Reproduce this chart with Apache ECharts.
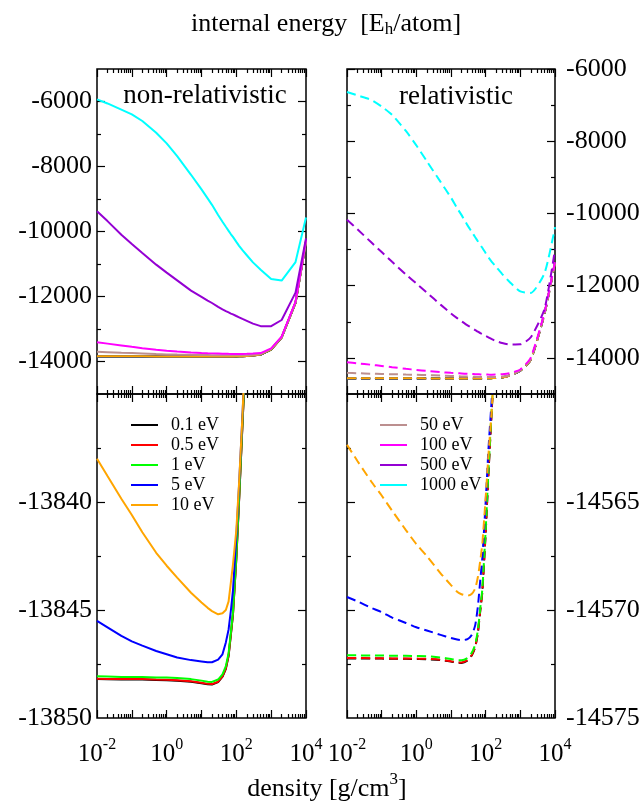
<!DOCTYPE html>
<html><head><meta charset="utf-8">
<script src="https://cdn.jsdelivr.net/npm/echarts@6/dist/echarts.min.js"></script>
<style>html,body{margin:0;padding:0;background:#fff}#c{width:643px;height:807px}</style>
</head><body><div id="c"></div>
<script>
// ---- data ----
const density = [0.01,0.02,0.05,0.1,0.2,0.5,1,2,5,10,15,20,30,40,50,60,70,80,100,120,150,200,300,500,1000,2000,5000,10000];

const temps = ['0.1 eV','0.5 eV','1 eV','5 eV','10 eV','50 eV','100 eV','500 eV','1000 eV'];
const colors = ['#000000','#ff0000','#00ff00','#0000ff','#ffa500','#bc8f8f','#ff00ff','#9400d3','#00ffff'];

// non-relativistic internal energy [Eh/atom]
const nr01 = [-13848.2,-13848.21,-13848.22,-13848.22,-13848.22,-13848.24,-13848.25,-13848.27,-13848.32,-13848.39,-13848.44,-13848.45,-13848.34,-13848.09,-13847.72,-13847.12,-13846.12,-13845.22,-13842.62,-13839.92,-13836.42,-13832,-13818,-13786,-13631,-13261,-12196,-10316];
const nr05 = [-13848.18,-13848.19,-13848.2,-13848.2,-13848.2,-13848.22,-13848.23,-13848.25,-13848.3,-13848.37,-13848.42,-13848.43,-13848.32,-13848.07,-13847.7,-13847.1,-13846.1,-13845.2,-13842.6,-13839.9,-13836.4,-13832,-13818,-13786,-13631,-13261,-12196,-10316];
const nr1  = [-13848.07,-13848.08,-13848.1,-13848.1,-13848.1,-13848.12,-13848.13,-13848.15,-13848.2,-13848.27,-13848.32,-13848.33,-13848.22,-13847.98,-13847.6,-13847.0,-13846.0,-13845.1,-13842.5,-13839.8,-13836.3,-13832,-13818,-13786,-13630,-13260,-12195,-10315];
const nr5  = [-13845.5,-13845.8,-13846.2,-13846.45,-13846.65,-13846.9,-13847.05,-13847.2,-13847.32,-13847.38,-13847.42,-13847.42,-13847.3,-13847.05,-13846.5,-13845.9,-13845.0,-13844.1,-13841.6,-13839.2,-13836.0,-13831.5,-13817,-13784,-13628,-13258,-12190,-10310];
const nr10 = [-13838.0,-13838.8,-13839.85,-13840.6,-13841.4,-13842.35,-13842.95,-13843.5,-13844.2,-13844.65,-13844.9,-13845.05,-13845.2,-13845.15,-13845.0,-13844.6,-13843.7,-13842.9,-13841.3,-13839.1,-13836.0,-13831,-13816,-13782,-13625,-13255,-12185,-10305];
const nr50 = [-13698,-13712,-13730,-13742,-13754,-13771,-13781,-13788,-13795,-13799,-13802,-13804,-13806,-13807,-13808,-13809,-13809,-13810,-13810,-13810,-13809,-13806,-13796,-13768,-13612,-13247,-12178,-10290];
const nr100 = [-13410,-13450,-13505,-13548,-13590,-13640,-13668,-13693,-13722,-13738,-13746,-13750,-13756,-13760,-13763,-13765,-13766,-13767,-13768,-13768,-13767,-13765,-13757,-13742,-13594,-13237,-12165,-10265];
const nr500 = [-9380,-9680,-10100,-10385,-10660,-11020,-11265,-11505,-11820,-12010,-12125,-12200,-12320,-12395,-12450,-12490,-12525,-12550,-12600,-12640,-12690,-12750,-12835,-12912,-12912,-12723,-11880,-10210];
const nr1000 = [-5935,-6060,-6250,-6395,-6600,-6960,-7290,-7680,-8255,-8705,-8980,-9180,-9490,-9700,-9855,-9980,-10085,-10165,-10320,-10440,-10575,-10730,-10950,-11175,-11460,-11510,-10940,-9570];

// relativistic internal energy [Eh/atom]
const rl01 = [-14572.24,-14572.24,-14572.25,-14572.25,-14572.26,-14572.26,-14572.27,-14572.28,-14572.32,-14572.39,-14572.44,-14572.45,-14572.34,-14572.09,-14571.72,-14571.02,-14570.02,-14569.17,-14566.42,-14563.72,-14560.72,-14557,-14543,-14488,-14353,-14048,-12768,-11363];
const rl05 = [-14572.22,-14572.22,-14572.23,-14572.23,-14572.24,-14572.24,-14572.25,-14572.26,-14572.3,-14572.37,-14572.42,-14572.43,-14572.32,-14572.07,-14571.7,-14571.0,-14570.0,-14569.15,-14566.4,-14563.7,-14560.7,-14557,-14543,-14488,-14353,-14048,-12768,-11363];
const rl1  = [-14572.1,-14572.1,-14572.11,-14572.11,-14572.12,-14572.12,-14572.13,-14572.14,-14572.2,-14572.27,-14572.32,-14572.33,-14572.22,-14571.97,-14571.6,-14570.9,-14569.9,-14569.05,-14566.3,-14563.6,-14560.6,-14557,-14543,-14488,-14353,-14048,-12768,-11363];
const rl5  = [-14569.4,-14569.6,-14569.9,-14570.1,-14570.35,-14570.6,-14570.8,-14570.95,-14571.15,-14571.3,-14571.37,-14571.4,-14571.35,-14571.15,-14570.7,-14569.8,-14568.6,-14567.6,-14565.0,-14562.6,-14560.2,-14556.8,-14543,-14487,-14352,-14047,-12767,-11362];
const rl10 = [-14562.35,-14563.1,-14564.05,-14564.7,-14565.4,-14566.3,-14566.95,-14567.5,-14568.3,-14568.85,-14569.15,-14569.27,-14569.34,-14569.25,-14569.0,-14568.45,-14567.7,-14566.95,-14564.8,-14562.85,-14560.7,-14556.5,-14542,-14485,-14350,-14045,-12765,-11360];
const rl50 = [-14415,-14425,-14438,-14446,-14453,-14461,-14467,-14475,-14488,-14500,-14507,-14512,-14518,-14522,-14525,-14527,-14528,-14529,-14530,-14530,-14530,-14528,-14518,-14478,-14338,-14033,-12752,-11348];
const rl100 = [-14120,-14150,-14190,-14222,-14258,-14303,-14333,-14362,-14394,-14414,-14424,-14431,-14441,-14447,-14451,-14454,-14457,-14459,-14461,-14463,-14464,-14463,-14450,-14420,-14320,-13990,-12730,-11330];
const rl500 = [-10175,-10440,-10800,-11070,-11340,-11690,-11940,-12190,-12525,-12770,-12900,-12985,-13100,-13170,-13230,-13275,-13315,-13340,-13390,-13430,-13480,-13535,-13590,-13630,-13625,-13430,-12640,-10995];
const rl1000 = [-6635,-6730,-6855,-7040,-7270,-7715,-8113,-8552,-9127,-9563,-9850,-10040,-10330,-10513,-10660,-10775,-10878,-10950,-11100,-11215,-11340,-11477,-11680,-11905,-12160,-12200,-11650,-10380];

const nonRel = [nr01,nr05,nr1,nr5,nr10,nr50,nr100,nr500,nr1000];
const rel = [rl01,rl05,rl1,rl5,rl10,rl50,rl100,rl500,rl1000];

// ticks
const xMajorTicks = [0.01,0.1,1,10,100,1000,10000];
const xLabelValues = [0.01,1,100,10000];
const xLabelExps = ['-2','0','2','4'];
const xMinorTicks = [];
for (let e = -2; e < 4; e++) for (let m = 2; m < 10; m++) xMinorTicks.push(+(m * Math.pow(10, e)).toPrecision(3));

const yTL = {min:-15000, max:-5000, labels:[-14000,-12000,-10000,-8000,-6000], major:[-14000,-12000,-10000,-8000,-6000], minor:[-13000,-11000,-9000,-7000]};
const yTR = {min:-15000, max:-6000, labels:[-14000,-12000,-10000,-8000,-6000], major:[-14000,-12000,-10000,-8000,-6000], minor:[-13000,-11000,-9000,-7000]};
const yBL = {min:-13850, max:-13835, labels:[-13850,-13845,-13840], major:[-13845,-13840], minor:[-13847.5,-13842.5,-13837.5]};
const yBR = {min:-14575, max:-14560, labels:[-14575,-14570,-14565], major:[-14570,-14565], minor:[-14572.5,-14567.5,-14562.5]};

// ---- chart ----
const FONT = "'Liberation Serif','Times New Roman',serif";
const chart = echarts.init(document.getElementById('c'), null, {renderer:'canvas'});

const grids = [
  {left:97, top:69, width:209, height:325},
  {left:347, top:69, width:208, height:325},
  {left:97, top:394, width:209, height:324},
  {left:347, top:394, width:208, height:324}
].map(g => Object.assign(g, {show:true, borderColor:'#000', borderWidth:1.5, backgroundColor:'transparent'}));

const tickStyle = {color:'#000', width:1.2};

function makeXAxes(gi, showLabels) {
  const base = {type:'log', logBase:10, min:0.01, max:10000, gridIndex:gi,
    axisLine:{show:false}, splitLine:{show:false}, minorTick:{show:false}};
  const lab = {
    show: showLabels, customValues: xLabelValues, margin: 19,
    formatter: function (v) {
      const i = xLabelValues.findIndex(t => Math.abs(Math.log10(t) - Math.log10(v)) < 1e-6);
      return i < 0 ? '' : '{b|10}{s|' + xLabelExps[i] + '}';
    },
    rich: {
      b: {fontSize:25, lineHeight:34, fontFamily:FONT, color:'#000'},
      s: {fontSize:16, lineHeight:16, verticalAlign:'top', fontFamily:FONT, color:'#000'}
    }
  };
  return [
    Object.assign({}, base, {position:'bottom', axisTick:{show:true, inside:true, length:8, customValues:xMajorTicks, lineStyle:tickStyle}, axisLabel:lab}),
    Object.assign({}, base, {position:'bottom', axisTick:{show:true, inside:true, length:4, customValues:xMinorTicks, lineStyle:tickStyle}, axisLabel:{show:false}}),
    Object.assign({}, base, {position:'top', axisTick:{show:true, inside:true, length:8, customValues:xMajorTicks, lineStyle:tickStyle}, axisLabel:{show:false}}),
    Object.assign({}, base, {position:'top', axisTick:{show:true, inside:true, length:4, customValues:xMinorTicks, lineStyle:tickStyle}, axisLabel:{show:false}})
  ];
}

function makeYAxes(gi, side, cfg, margin) {
  const other = side === 'left' ? 'right' : 'left';
  const base = {type:'value', gridIndex:gi, min:cfg.min, max:cfg.max,
    axisLine:{show:false}, splitLine:{show:false}, minorTick:{show:false}};
  return [
    Object.assign({}, base, {position:side, axisTick:{show:true, inside:true, length:8, customValues:cfg.major, lineStyle:tickStyle},
      axisLabel:{show:true, customValues:cfg.labels, margin:margin, fontSize:26, fontFamily:FONT, color:'#000', formatter: v => String(v)}}),
    Object.assign({}, base, {position:side, axisTick:{show:true, inside:true, length:4, customValues:cfg.minor, lineStyle:tickStyle}, axisLabel:{show:false}}),
    Object.assign({}, base, {position:other, axisTick:{show:true, inside:true, length:8, customValues:cfg.major, lineStyle:tickStyle}, axisLabel:{show:false}}),
    Object.assign({}, base, {position:other, axisTick:{show:true, inside:true, length:4, customValues:cfg.minor, lineStyle:tickStyle}, axisLabel:{show:false}})
  ];
}

const xAxis = [].concat(makeXAxes(0,false), makeXAxes(1,false), makeXAxes(2,true), makeXAxes(3,true));
const yAxis = [].concat(makeYAxes(0,'left',yTL,5), makeYAxes(1,'right',yTR,11), makeYAxes(2,'left',yBL,5), makeYAxes(3,'right',yBR,11));

const panels = [
  {grid:0, sets:nonRel, dashed:false},
  {grid:1, sets:rel, dashed:true},
  {grid:2, sets:nonRel, dashed:false},
  {grid:3, sets:rel, dashed:true}
];
const series = [];
panels.forEach(p => {
  p.sets.forEach((vals, k) => {
    series.push({
      type:'line', name:temps[k], xAxisIndex:p.grid*4, yAxisIndex:p.grid*4,
      data: density.map((d, i) => [d, vals[i]]),
      symbol:'none', clip:true, silent:true,
      smooth: p.dashed ? 0.2 : false,
      lineStyle:{color:colors[k], width:2, type: p.dashed ? [9,5] : 'solid'},
      itemStyle:{color:colors[k]}
    });
  });
});

const legendText = {fontFamily:FONT, fontSize:18, color:'#000', padding:[0,0,0,8]};
const legendBase = {orient:'vertical', top:416, padding:0, itemWidth:27, itemHeight:2, itemGap:2,
  icon:'rect', textStyle:legendText, selectedMode:false};
const option = {
  backgroundColor:'#fff',
  animation:false,
  grid: grids,
  xAxis: xAxis,
  yAxis: yAxis,
  legend: [
    Object.assign({}, legendBase, {data: temps.slice(0,5), left:131}),
    Object.assign({}, legendBase, {data: temps.slice(5), left:380})
  ],
  graphic: [
    {type:'text', x:326, y:24, style:{text:'{a|internal energy  [E}{sub|h}{a|/atom]}', align:'center', verticalAlign:'middle',
      rich:{a:{fontSize:26, fontFamily:FONT, fill:'#000', lineHeight:28}, sub:{fontSize:17, fontFamily:FONT, fill:'#000', lineHeight:17, padding:[26,0,0,0], verticalAlign:'bottom'}}}},
    {type:'text', x:327, y:789, style:{text:'{a|density [g/cm}{sup|3}{a|]}', align:'center', verticalAlign:'middle',
      rich:{a:{fontSize:26, fontFamily:FONT, fill:'#000', lineHeight:36}, sup:{fontSize:17, fontFamily:FONT, fill:'#000', lineHeight:17, verticalAlign:'top'}}}},
    {type:'text', x:205, y:96, style:{text:'non-relativistic', align:'center', verticalAlign:'middle', fontSize:27, fontFamily:FONT, fill:'#000'}},
    {type:'text', x:456, y:97, style:{text:'relativistic', align:'center', verticalAlign:'middle', fontSize:27, fontFamily:FONT, fill:'#000'}}
  ],
  series: series
};
chart.setOption(option);
</script></body></html>
